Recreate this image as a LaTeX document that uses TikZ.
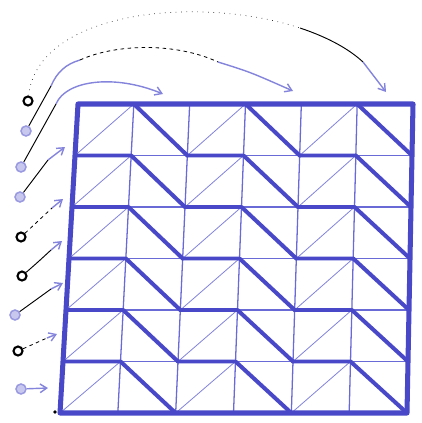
\documentclass[tikz,border=0pt]{standalone}
\usetikzlibrary{arrows.meta}
\definecolor{penblue}{HTML}{4848C8}
\definecolor{penlight}{HTML}{8484DC}
\definecolor{gridblue}{HTML}{6A6AD6}
\tikzset{
  dotblack/.style = {circle, draw=black, line width=1.8pt, fill=white,
                     minimum size=0.27cm, inner sep=0pt},
  dotblue/.style  = {circle, draw=penblue!55, line width=1.3pt, fill=penblue!30,
                     minimum size=0.3cm, inner sep=0pt},
  cellline/.style = {draw=gridblue, line width=1.1pt},
  diag/.style     = {draw=penlight, line width=0.7pt},
  zig/.style      = {draw=penblue, line width=3.4pt, line join=round, line cap=round},
  rim/.style      = {draw=penblue, line width=4.3pt, line join=round},
  ink/.style      = {draw=black, line width=0.8pt},
  inkdash/.style  = {draw=black, line width=0.7pt, dashed},
  inkdot/.style   = {draw=black!80, line width=0.6pt, loosely dotted},
  pen/.style      = {draw=penlight, line width=1.2pt},
  pointer/.style  = {draw=penlight, line width=1.2pt,
                     -{Straight Barb[length=2mm, width=2.6mm]}},
}

\begin{document}
\begin{tikzpicture}[x=0.03cm, y=-0.03cm,
  declare function={gx(\i,\j)=78-3*\j+(335+2*\j)*\i/6; gy(\j)=104+51.5*\j;}]
\useasboundingbox (0,0) rectangle (421,423);

% Grid lines
\foreach \i in {1,...,5} {
  \draw [cellline] ({gx(\i,0)},{gy(0)}) -- ({gx(\i,6)},{gy(6)});
  \draw [cellline] ({gx(0,\i)},{gy(\i)}) -- ({gx(6,\i)},{gy(\i)});
}

% Thin diagonals in the odd columns
\foreach \r in {0,...,5}
  \foreach \c in {0,2,4}
    \draw [diag] ({gx(\c,\r+1)},{gy(\r+1)}) -- ({gx(\c+1,\r)},{gy(\r)});

% Thick zigzags: top edge, then down to the next row
\foreach \r in {0,...,5}
  \foreach \c in {0,2,4}
    \draw [zig] ({gx(\c,\r)},{gy(\r)}) -- ({gx(\c+1,\r)},{gy(\r)})
                -- ({gx(\c+2,\r+1)},{gy(\r+1)});

% Outer frame
\coordinate (tl) at ({gx(0,0)},{gy(0)});
\coordinate (tr) at ({gx(6,0)},{gy(0)});
\coordinate (br) at ({gx(6,6)},{gy(6)});
\coordinate (bl) at ({gx(0,6)},{gy(6)});
\draw [rim] (tl) -- (tr) -- (br) -- (bl) -- cycle;
\node (blob) [circle, fill=black, inner sep=0pt, minimum size=3pt] at (55,412) {};

% Dots down the left side
\node (d1) [dotblack] at (28,101) {};
\node (d2) [dotblue]  at (26,131) {};
\node (d3) [dotblue]  at (21,167) {};
\node (d4) [dotblue]  at (20,197) {};
\node (d5) [dotblack] at (21,237) {};
\node (d6) [dotblack] at (22,276) {};
\node (d7) [dotblue]  at (15,315) {};
\node (d8) [dotblack] at (18,351) {};
\node (d9) [dotblue]  at (21,389) {};

% Arrow ends
\coordinate (t1) at (386,92);
\coordinate (t2) at (293,91);
\coordinate (t3) at (163,94);
\coordinate (t4) at (65,147);
\coordinate (t5) at (63,199);
\coordinate (t6) at (62,241);
\coordinate (t7) at (63,283);
\coordinate (t8) at (57,334);
\coordinate (t9) at (48,388);

% Long arcs over the top
\coordinate (c1) at (300,28);
\coordinate (c2) at (363,62);
\draw [inkdot] (d1) .. controls (38,10) and (200,-5) .. (c1);
\draw [ink] (c1) .. controls (330,38) and (350,50) .. (c2);
\draw [pointer] (c2) -- (t1);

\coordinate (b1) at (51,86);
\coordinate (b2) at (80,60);
\coordinate (b3) at (218,62);
\draw [ink] (d2) -- (b1);
\draw [pen] (b1) .. controls (57,72) and (66,64) .. (b2);
\draw [inkdash] (b2) .. controls (115,44) and (175,42) .. (b3);
\draw [pointer] (b3) .. controls (250,72) .. (t2);

\coordinate (a1) at (56,104);
\draw [ink] (d3) -- (a1);
\draw [pointer] (a1) .. controls (66,80) and (115,74) .. (t3);

% Short arrows into the rows
\coordinate (k4) at (48,160);
\coordinate (k5) at (52,208);
\coordinate (k6) at (51,250);
\coordinate (k7) at (51,289);
\coordinate (k8) at (47,338);
\draw [ink] (d4) -- (k4);
\draw [pointer] (k4) -- (t4);
\draw [inkdash] (d5) -- (k5);
\draw [pointer] (k5) -- (t5);
\draw [ink] (d6) .. controls (38,262) .. (k6);
\draw [pointer] (k6) -- (t6);
\draw [ink] (d7) -- (k7);
\draw [pointer] (k7) -- (t7);
\draw [inkdash] (d8) -- (k8);
\draw [pointer] (k8) -- (t8);
\draw [pointer] (d9) -- (t9);

\end{tikzpicture}
\end{document}
